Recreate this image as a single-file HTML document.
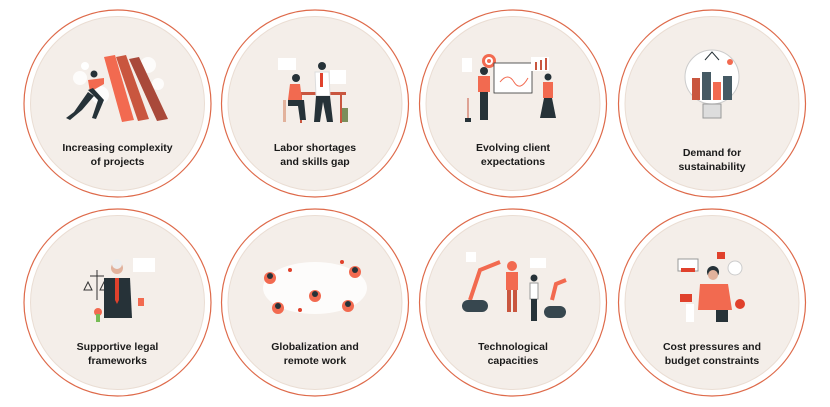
<!DOCTYPE html>
<html><head><meta charset="utf-8"><style>
html,body{margin:0;padding:0;background:#fff;}
svg{display:block}
text{font-family:"Liberation Sans",sans-serif;font-size:10.5px;font-weight:bold;fill:#1a1a1a;text-anchor:middle}
</style></head><body>
<svg width="830" height="407" viewBox="0 0 830 407" xmlns="http://www.w3.org/2000/svg">
<defs>
<g id="c">
<circle r="93.5" fill="#fff" stroke="#de6a4a" stroke-width="1.2"/>
<circle r="87" fill="#f4eee9" stroke="#eaddd3" stroke-width="1"/>
</g>
</defs>
<!-- row 1 -->
<use href="#c" x="117.5" y="103.5"/>
<use href="#c" x="315" y="103.5"/>
<use href="#c" x="513" y="103.5"/>
<use href="#c" x="712" y="103.5"/>
<use href="#c" x="117.5" y="302.5"/>
<use href="#c" x="315" y="302.5"/>
<use href="#c" x="513" y="302.5"/>
<use href="#c" x="712" y="302.5"/>

<!-- illus 1 -->
<g>
<circle cx="80" cy="78" r="7" fill="#fff" opacity=".8"/><circle cx="100" cy="95" r="9" fill="#fff" opacity=".8"/><circle cx="148" cy="65" r="8" fill="#fff" opacity=".8"/><circle cx="158" cy="84" r="6" fill="#fff" opacity=".8"/>
<polygon points="104,57 115,55 134,120 122,122" fill="#f26a50"/>
<polygon points="116,57 126,55 149,119 138,121" fill="#c9563f"/>
<polygon points="129,59 139,57 168,119 157,121" fill="#a9493a"/>
<circle cx="94" cy="74" r="3.5" fill="#263238"/>
<path d="M88 80 L104 78 L104 84 L90 92 Z" fill="#f26a50"/>
<path d="M88 90 L98 100 L92 118 L96 119 L104 100 L93 88 Z M88 92 L74 112 L66 118 L70 120 L82 110 L94 96 Z" fill="#263238"/>
<circle cx="85" cy="66" r="4" fill="#fff"/>
</g>
<text x="117.5" y="151">Increasing complexity</text><text x="117.5" y="165">of projects</text>

<!-- illus 2 -->
<g>
<rect x="278" y="58" width="18" height="12" fill="#fff"/><rect x="330" y="70" width="16" height="14" fill="#fff"/>
<rect x="296" y="92" width="50" height="3" fill="#c9563f"/><rect x="300" y="95" width="2" height="28" fill="#c9563f"/><rect x="340" y="95" width="2" height="28" fill="#c9563f"/>
<circle cx="296" cy="78" r="4" fill="#263238"/><path d="M290 84 L300 84 L302 100 L288 100 Z" fill="#f26a50"/>
<path d="M288 100 L304 100 L306 120 L300 120 L298 106 L288 106 Z" fill="#263238"/>
<rect x="283" y="100" width="3" height="22" fill="#e2b29c"/>
<circle cx="322" cy="66" r="4" fill="#263238"/><path d="M315 72 L329 72 L330 96 L316 96 Z" fill="#fff" stroke="#ddd"/><rect x="320" y="73" width="3" height="14" fill="#e0412c"/>
<path d="M316 96 L330 96 L333 122 L327 122 L323 102 L320 122 L314 122 Z" fill="#263238"/>
<rect x="342" y="108" width="6" height="14" fill="#7b8e5b"/>
</g>
<text x="315" y="151">Labor shortages</text><text x="315" y="165">and skills gap</text>

<!-- illus 3 -->
<g>
<rect x="462" y="58" width="10" height="14" fill="#fff"/>
<circle cx="489" cy="61" r="7" fill="#f26a50"/><circle cx="489" cy="61" r="4" fill="#fff"/><circle cx="489" cy="61" r="2" fill="#f26a50"/>
<rect x="494" y="63" width="38" height="30" fill="#fff" stroke="#333" stroke-width="0.8"/>
<path d="M500 82 Q508 72 514 82 T528 78" stroke="#f26a50" fill="none"/>
<rect x="531" y="57" width="18" height="14" fill="#fff"/><rect x="535" y="62" width="2" height="8" fill="#c9563f"/><rect x="540" y="60" width="2" height="10" fill="#c9563f"/><rect x="545" y="58" width="2" height="12" fill="#c9563f"/>
<circle cx="484" cy="71" r="4" fill="#263238"/><rect x="478" y="76" width="12" height="16" fill="#f26a50"/><rect x="480" y="92" width="8" height="28" fill="#263238"/>
<circle cx="548" cy="77" r="3.5" fill="#263238"/><rect x="543" y="82" width="10" height="16" fill="#f26a50"/><path d="M544 98 L552 98 L556 118 L540 118 Z" fill="#263238"/>
<path d="M468 98 L468 120" stroke="#c9563f"/><rect x="465" y="118" width="6" height="4" fill="#263238"/>
</g>
<text x="513" y="151">Evolving client</text><text x="513" y="165">expectations</text>

<!-- illus 4 -->
<g>
<circle cx="712" cy="77" r="27" fill="#fff" stroke="#ccc"/>
<rect x="703" y="104" width="18" height="14" fill="#ddd" stroke="#999"/>
<rect x="692" y="78" width="8" height="22" fill="#c9563f"/><rect x="702" y="72" width="9" height="28" fill="#455a64"/><rect x="713" y="82" width="8" height="18" fill="#f26a50"/><rect x="723" y="76" width="9" height="24" fill="#455a64"/>
<path d="M705 60 L712 52 L719 60" stroke="#263238" fill="none"/><circle cx="730" cy="62" r="3" fill="#f26a50"/>
</g>
<text x="712" y="156">Demand for</text><text x="712" y="170">sustainability</text>

<!-- illus 5 -->
<g>
<rect x="133" y="258" width="22" height="14" fill="#fff"/>
<path d="M90 276 L104 276 M97 270 L97 300 M88 282 l4 8 l-8 0 Z M104 282 l4 8 l-8 0 Z" stroke="#333" fill="none"/>
<circle cx="117" cy="268" r="6" fill="#e2b29c"/><circle cx="117" cy="264" r="5" fill="#eee"/>
<path d="M104 278 L130 278 L132 318 L104 318 Z" fill="#263238"/><path d="M115 278 L119 278 L119 300 L117 304 L115 300 Z" fill="#e0412c"/>
<rect x="138" y="298" width="6" height="8" fill="#f26a50"/>
<circle cx="98" cy="312" r="4" fill="#f26a50"/><rect x="96" y="314" width="4" height="8" fill="#7b5"/>
</g>
<text x="117.5" y="350">Supportive legal</text><text x="117.5" y="364">frameworks</text>

<!-- illus 6 -->
<g>
<ellipse cx="315" cy="288" rx="52" ry="26" fill="#fff" opacity=".8"/>
<circle cx="270" cy="278" r="6" fill="#f26a50"/><circle cx="270" cy="276" r="3" fill="#263238"/>
<circle cx="355" cy="272" r="6" fill="#f26a50"/><circle cx="355" cy="270" r="3" fill="#263238"/>
<circle cx="278" cy="308" r="6" fill="#f26a50"/><circle cx="278" cy="306" r="3" fill="#263238"/>
<circle cx="315" cy="296" r="6" fill="#f26a50"/><circle cx="315" cy="294" r="3" fill="#263238"/>
<circle cx="348" cy="306" r="6" fill="#f26a50"/><circle cx="348" cy="304" r="3" fill="#263238"/>
<circle cx="290" cy="270" r="2" fill="#e0412c"/><circle cx="342" cy="262" r="2" fill="#e0412c"/><circle cx="300" cy="310" r="2" fill="#e0412c"/>
</g>
<text x="315" y="350">Globalization and</text><text x="315" y="364">remote work</text>

<!-- illus 7 -->
<g>
<rect x="466" y="252" width="10" height="10" fill="#fff"/><rect x="530" y="258" width="16" height="10" fill="#fff"/>
<path d="M470 300 L480 270 L500 262" stroke="#f26a50" stroke-width="4" fill="none"/>
<rect x="462" y="300" width="26" height="12" rx="6" fill="#37474f"/>
<circle cx="512" cy="266" r="5" fill="#f26a50"/><rect x="506" y="272" width="12" height="18" fill="#f26a50"/><rect x="507" y="290" width="4" height="22" fill="#c9563f"/><rect x="513" y="290" width="4" height="22" fill="#c9563f"/>
<circle cx="534" cy="278" r="3.5" fill="#263238"/><rect x="530" y="283" width="8" height="16" fill="#fff" stroke="#999"/><rect x="531" y="299" width="6" height="22" fill="#263238"/>
<path d="M552 300 L556 284 L566 280" stroke="#f26a50" stroke-width="4" fill="none"/>
<rect x="544" y="306" width="22" height="12" rx="6" fill="#37474f"/>
</g>
<text x="513" y="350">Technological</text><text x="513" y="364">capacities</text>

<!-- illus 8 -->
<g>
<rect x="678" y="259" width="20" height="12" fill="#fff" stroke="#999"/><rect x="681" y="268" width="14" height="4" fill="#e0412c"/>
<rect x="717" y="252" width="8" height="7" fill="#e0412c"/>
<circle cx="735" cy="268" r="7" fill="#fff" stroke="#ccc"/>
<circle cx="713" cy="272" r="6" fill="#263238"/><circle cx="713" cy="275" r="5" fill="#e2b29c"/>
<path d="M700 284 L728 284 L732 310 L698 310 Z" fill="#f26a50"/>
<rect x="680" y="294" width="12" height="8" fill="#e0412c"/>
<rect x="716" y="310" width="12" height="12" fill="#263238"/>
<circle cx="740" cy="304" r="5" fill="#e0412c"/>
<rect x="686" y="304" width="8" height="18" fill="#fff"/>
</g>
<text x="712" y="350">Cost pressures and</text><text x="712" y="364">budget constraints</text>
</svg>
</body></html>
